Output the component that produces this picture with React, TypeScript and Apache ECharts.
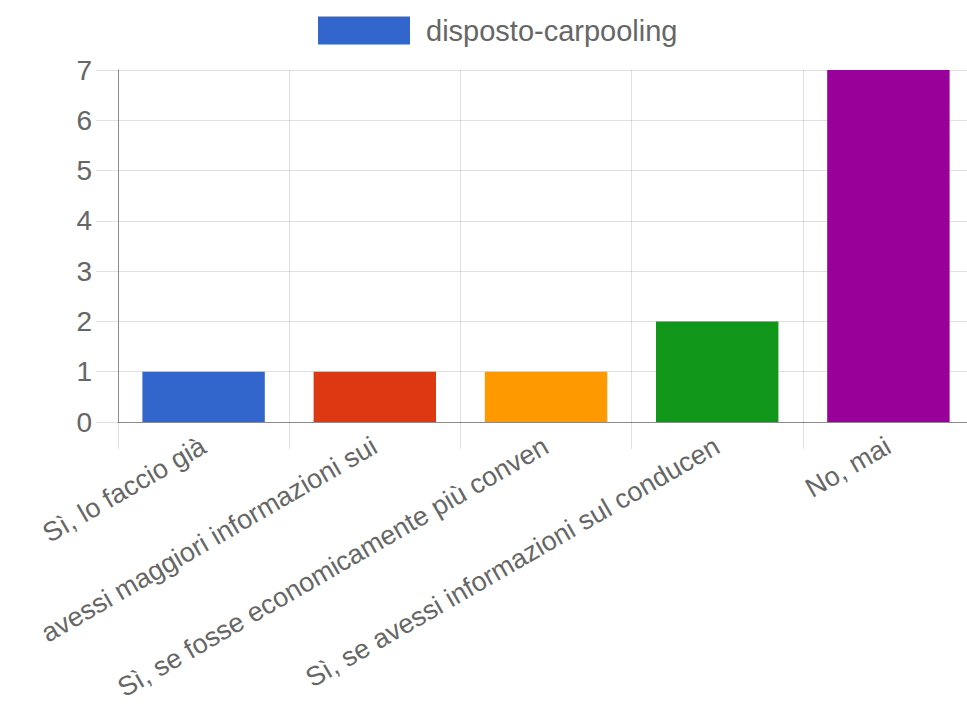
import React, { useEffect, useRef } from "react";
import * as echarts from "echarts";

const categories = [
  "Sì, lo faccio già",
  "avessi maggiori informazioni sui",
  "Sì, se fosse economicamente più conven",
  "Sì, se avessi informazioni sul conducen",
  "No, mai",
];
const values = [1, 1, 1, 2, 7];
const barColors = ["#3366cc", "#dc3912", "#ff9900", "#109618", "#990099"];
const seriesName = "disposto-carpooling";

const FONT = "'Liberation Sans', Arial, sans-serif";
const TEXT = "#666666";
const GRID = "rgba(0,0,0,0.12)";

export default function App() {
  const ref = useRef<HTMLDivElement>(null);
  useEffect(() => {
    if (!ref.current) return;
    const chart = echarts.init(ref.current, undefined, { renderer: "svg" });
    chart.setOption({
      animation: false,
      textStyle: { fontFamily: FONT },
      legend: {
        show: true,
        left: 318,
        top: 16,
        padding: 0,
        itemWidth: 92,
        itemHeight: 28,
        icon: "rect",
        textStyle: { fontSize: 29, color: TEXT, fontFamily: FONT, padding: [0, 0, 0, 11] },
        data: [seriesName],
      },
      grid: {
        left: 118,
        top: 70,
        width: 856,
        height: 352,
        containLabel: false,
        outerBoundsMode: "none",
      },
      xAxis: {
        type: "category",
        data: categories,
        axisLine: { show: true, lineStyle: { color: "#8a8a8a", width: 1 } },
        axisTick: { show: true, length: 27, lineStyle: { color: GRID } },
        splitLine: { show: true, lineStyle: { color: GRID } },
        axisLabel: {
          rotate: 30,
          margin: 22,
          fontSize: 27,
          lineHeight: 24,
          color: TEXT,
          fontFamily: FONT,
          interval: 0,
        },
      },
      yAxis: {
        type: "value",
        min: 0,
        max: 7,
        interval: 1,
        axisLine: { show: true, lineStyle: { color: "#8a8a8a" } },
        axisTick: { show: true, length: 22, lineStyle: { color: GRID } },
        splitLine: { show: true, lineStyle: { color: GRID } },
        axisLabel: { fontSize: 28, color: TEXT, margin: 26, fontFamily: FONT },
      },
      series: [
        {
          name: seriesName,
          type: "bar",
          barWidth: "71.5%",
          itemStyle: { color: barColors[0] },
          data: values.map((v, i) => ({ value: v, itemStyle: { color: barColors[i] } })),
        },
      ],
    });
    return () => chart.dispose();
  }, []);
  return (
    <div
      ref={ref}
      style={{ position: "fixed", left: 0, top: 0, width: 967, height: 711, background: "#fff" }}
    />
  );
}
